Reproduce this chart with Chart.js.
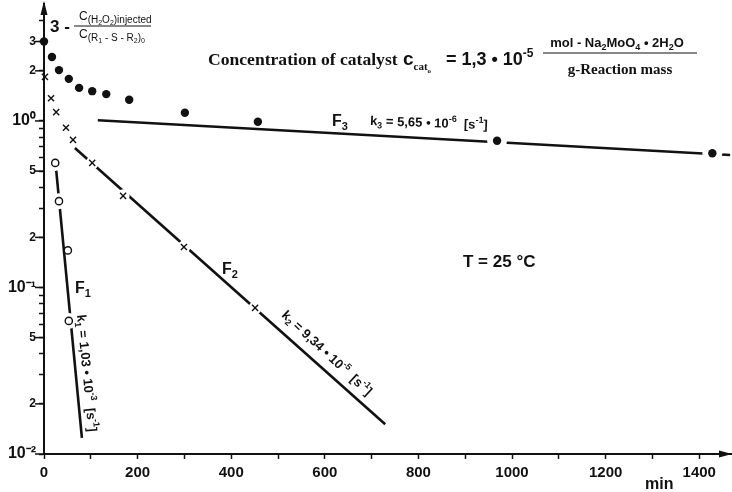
<!DOCTYPE html>
<html>
<head>
<meta charset="utf-8">
<script src="https://cdn.jsdelivr.net/npm/chart.js@4.4.1/dist/chart.umd.min.js"></script>
<style>
  html, body { margin:0; padding:0; background:#fff; overflow:hidden; }
  #wrap { width:732px; height:492px; }
</style>
</head>
<body>
<div id="wrap"><canvas id="chart" width="732" height="492"></canvas></div>
<script>
// --- data (min / dimensionless ratio) ---
const f3Min = [0, 17, 32, 53, 75, 103, 133, 182, 301, 457, 968, 1428];
const f3Val = [3.0, 2.42, 2.02, 1.79, 1.58, 1.51, 1.45, 1.34, 1.12, 0.99, 0.76, 0.64];

const f2Min = [2, 15, 26, 47, 62, 103, 169, 299, 451];
const f2Val = [1.84, 1.37, 1.13, 0.91, 0.77, 0.56, 0.355, 0.175, 0.0754];

const f1Min = [24, 32, 51, 53];
const f1Val = [0.56, 0.33, 0.167, 0.063];

// fitted lines (end points)
const f1LineMin = [26, 81];
const f1LineVal = [0.508, 0.0125];
const f2LineMin = [66, 729];
const f2LineVal = [0.688, 0.0151];
const f3LineMin = [115, 1466];
const f3LineVal = [1.01, 0.625];

const xTickValues = [0, 100, 200, 300, 400, 500, 600, 700, 800, 900, 1000, 1100, 1200, 1300, 1400];
const xTickLabels = ['0', '', '200', '', '400', '', '600', '', '800', '', '1000', '', '1200', '', '1400'];

const yTickValues = [0.01, 0.02, 0.03, 0.04, 0.05, 0.06, 0.07, 0.08, 0.09,
                     0.1, 0.2, 0.3, 0.4, 0.5, 0.6, 0.7, 0.8, 0.9,
                     1, 2, 3, 4];
const yTickLabels = ['10⁻²', '2', '', '', '5', '', '', '', '',
                     '10⁻¹', '2', '', '', '5', '', '', '', '',
                     '10⁰', '2', '3', ''];

const SANS = '"Liberation Sans", Arial, sans-serif';
const SERIF = '"Liberation Serif", "Times New Roman", serif';
const INK = '#111';

const pts = (xs, ys) => xs.map((x, i) => ({ x, y: ys[i] }));

// draw a run of text pieces: [text, size, dy, family, weight]
function rich(ctx, x, y, parts) {
  let cx = x;
  parts.forEach(([t, size, dy, fam, w]) => {
    ctx.font = `${w || 'bold'} ${size}px ${fam || SANS}`;
    ctx.fillText(t, cx, y + (dy || 0));
    cx += ctx.measureText(t).width;
  });
  return cx - x;
}
function richWidth(ctx, parts) {
  let w = 0;
  parts.forEach(([t, size, dy, fam, wt]) => {
    ctx.font = `${wt || 'bold'} ${size}px ${fam || SANS}`;
    w += ctx.measureText(t).width;
  });
  return w;
}
function richRot(ctx, x, y, deg, parts) {
  ctx.save();
  ctx.translate(x, y);
  ctx.rotate(deg * Math.PI / 180);
  rich(ctx, 0, 0, parts);
  ctx.restore();
}

const annotate = {
  id: 'annotate',
  afterDraw(chart) {
    const ctx = chart.ctx;
    const ca = chart.chartArea;
    const ys = chart.scales.y;
    ctx.save();
    ctx.fillStyle = INK;
    ctx.strokeStyle = INK;
    ctx.textBaseline = 'alphabetic';
    ctx.textAlign = 'left';

    // longer ticks where the y axis has labels
    ctx.lineWidth = 1.5;
    yTickValues.forEach((v, i) => {
      if (!yTickLabels[i]) return;
      const py = ys.getPixelForValue(v);
      ctx.beginPath();
      ctx.moveTo(ca.left - 9, py);
      ctx.lineTo(ca.left, py);
      ctx.stroke();
    });

    // arrows
    ctx.beginPath();
    ctx.moveTo(ca.left, 1);
    ctx.lineTo(ca.left - 3.5, 15);
    ctx.lineTo(ca.left + 3.5, 15);
    ctx.closePath();
    ctx.fill();
    ctx.beginPath();
    ctx.moveTo(732, ca.bottom);
    ctx.lineTo(719, ca.bottom - 3.5);
    ctx.lineTo(719, ca.bottom + 3.5);
    ctx.closePath();
    ctx.fill();

    // y axis quantity
    rich(ctx, 50, 32, [['3 -', 17, 0]]);
    ctx.lineWidth = 1;
    ctx.beginPath(); ctx.moveTo(74, 26); ctx.lineTo(151, 26); ctx.stroke();
    rich(ctx, 79, 20, [['C', 12, 0, SANS, 'normal'], ['(H', 10, 3, SANS, 'normal'], ['2', 7, 5, SANS, 'normal'],
                       ['O', 10, 3, SANS, 'normal'], ['2', 7, 5, SANS, 'normal'], [')injected', 10, 3, SANS, 'normal']]);
    rich(ctx, 79, 38, [['C', 12, 0, SANS, 'normal'], ['(R', 10, 3, SANS, 'normal'], ['1', 7, 5, SANS, 'normal'],
                       [' - S - R', 10, 3, SANS, 'normal'], ['2', 7, 5, SANS, 'normal'], [')', 10, 3, SANS, 'normal'],
                       ['0', 7, 5, SANS, 'normal']]);

    // title line
    rich(ctx, 208, 65, [['Concentration of catalyst', 17.6, 0, SERIF]]);
    rich(ctx, 403, 65, [['c', 19, 0], ['cat', 11, 5, SERIF], ['o', 7, 8, SERIF]]);
    rich(ctx, 446, 65, [['= 1,3 • 10', 18, 0], ['-5', 12, -8]]);
    const num = [['mol - Na', 13, 0], ['2', 9, 3], ['MoO', 13, 0], ['4', 9, 3], [' • 2H', 13, 0], ['2', 9, 3], ['O', 13, 0]];
    rich(ctx, 617 - richWidth(ctx, num) / 2, 47, num);
    ctx.lineWidth = 1.2;
    ctx.beginPath(); ctx.moveTo(543, 53); ctx.lineTo(697, 53); ctx.stroke();
    const den = [['g-Reaction mass', 15, 0, SERIF]];
    rich(ctx, 620 - richWidth(ctx, den) / 2, 74, den);

    // curve labels
    rich(ctx, 332, 126, [['F', 16, 0], ['3', 11, 4]]);
    richRot(ctx, 370, 125, 2, [['k', 13, 0], ['3', 9, 3], [' = 5,65 • 10', 13, 0], ['-6', 9, -6],
                               ['  [s', 13, 0], ['-1', 9, -6], [']', 13, 0]]);
    rich(ctx, 222, 274, [['F', 16, 0], ['2', 11, 4]]);
    richRot(ctx, 281, 316, 43, [['k', 13, 0], ['2', 9, 3], [' = 9,34 • 10', 13, 0], ['-5', 9, -6],
                                ['  [s', 13, 0], ['-1', 9, -6], [']', 13, 0]]);
    rich(ctx, 75, 293, [['F', 16, 0], ['1', 11, 4]]);
    richRot(ctx, 77, 315, 84.5, [['k', 13, 0], ['1', 9, 3], [' = 1,03 • 10', 13, 0], ['-3', 9, -6],
                                 ['  [s', 13, 0], ['-1', 9, -6], [']', 13, 0]]);

    rich(ctx, 463, 267, [['T = 25 °C', 17, 0]]);
    rich(ctx, 645, 489, [['min', 16, 0]]);
    ctx.restore();
  }
};

const lineDs = (xs, ys) => ({
  data: pts(xs, ys), showLine: true, borderColor: INK, borderWidth: 2.6,
  pointRadius: 0, order: 3, clip: false
});
const haloDs = (xs, ys, radius) => ({
  data: pts(xs, ys), showLine: false, pointStyle: 'circle',
  pointRadius: radius, pointBackgroundColor: '#fff', pointBorderWidth: 0,
  pointBorderColor: '#fff', order: 2, clip: false
});

new Chart(document.getElementById('chart'), {
  type: 'scatter',
  data: {
    datasets: [
      { label: 'F3 data', data: pts(f3Min, f3Val), pointStyle: 'circle', pointRadius: 4.2,
        pointBackgroundColor: INK, pointBorderColor: INK, pointBorderWidth: 0, order: 1, clip: false },
      { label: 'F2 data', data: pts(f2Min, f2Val), pointStyle: 'crossRot', pointRadius: 4.3,
        pointBorderColor: INK, pointBorderWidth: 1.4, order: 1, clip: false },
      { label: 'F1 data', data: pts(f1Min, f1Val), pointStyle: 'circle', pointRadius: 3.6,
        pointBackgroundColor: '#fff', pointBorderColor: INK, pointBorderWidth: 1.4, order: 1, clip: false },
      haloDs(f3Min, f3Val, c => f3Min[c.dataIndex] > 900 ? 10 : 0),
      haloDs(f2Min, f2Val, c => f2Min[c.dataIndex] > 90 ? 6.5 : 0),
      haloDs(f1Min, f1Val, c => c.dataIndex === 2 ? 0 : 8),
      lineDs(f1LineMin, f1LineVal),
      lineDs(f2LineMin, f2LineVal),
      lineDs(f3LineMin, f3LineVal)
    ]
  },
  options: {
    responsive: false,
    animation: false,
    events: [],
    layout: { autoPadding: false, padding: { top: 4, right: 0, left: 0, bottom: 0 } },
    plugins: { legend: { display: false }, tooltip: { enabled: false } },
    scales: {
      x: {
        type: 'linear', min: 0, max: 1470,
        afterBuildTicks: s => { s.ticks = xTickValues.map(v => ({ value: v })); },
        afterFit: s => { s.height = 38; s.paddingLeft = 0; s.paddingRight = 0; },
        ticks: { autoSkip: false, maxRotation: 0, padding: 5, color: INK,
                 font: { size: 15, weight: 'bold' },
                 callback: (v, i) => xTickLabels[i] },
        grid: { drawOnChartArea: false, drawTicks: true, tickLength: 5, tickWidth: 1.5, tickColor: INK },
        border: { display: true, color: INK, width: 2 }
      },
      y: {
        type: 'logarithmic', min: 0.01, max: 5.04,
        afterBuildTicks: s => { s.ticks = yTickValues.map(v => ({ value: v })); },
        afterFit: s => { s.width = 44; s.paddingTop = 0; s.paddingBottom = 0; },
        ticks: { autoSkip: false, padding: 3, color: INK,
                 font: c => ({ size: (c.tick && c.tick.label && c.tick.label.length > 2) ? 16 : 12, weight: 'bold' }),
                 callback: (v, i) => yTickLabels[i] },
        grid: { drawOnChartArea: false, drawTicks: true, tickLength: 5, tickWidth: 1.5, tickColor: INK },
        border: { display: true, color: INK, width: 2 }
      }
    }
  },
  plugins: [annotate]
});
</script>
</body>
</html>
